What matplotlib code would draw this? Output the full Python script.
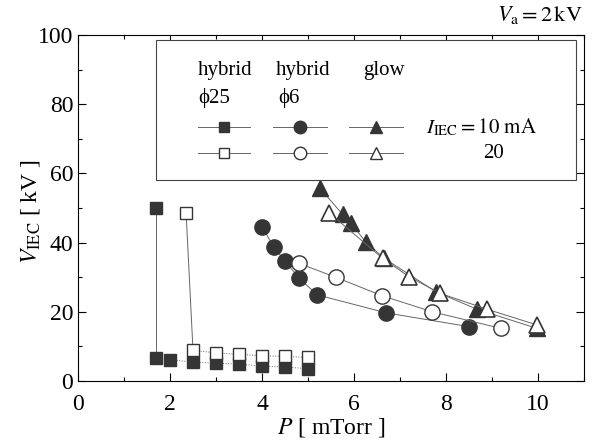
import matplotlib
matplotlib.use("Agg")
import matplotlib.pyplot as plt
from matplotlib.ticker import MultipleLocator

plt.rcParams['font.family'] = ['Liberation Serif', 'DejaVu Serif']
plt.rcParams['mathtext.fontset'] = 'stix'

# hybrid phi25
sq10_x = [1.7, 1.7, 2.0, 2.5, 3.0, 3.5, 4.0, 4.5, 5.0]
sq10_y = [50, 6.6, 6.1, 5.5, 5.1, 4.9, 4.3, 4.0, 3.6]
sq20_x = [2.35, 2.5, 3.0, 3.5, 4.0, 4.5, 5.0]
sq20_y = [48.5, 8.9, 8.1, 7.7, 7.3, 7.1, 6.8]

# hybrid phi6
ci10_x = [4.0, 4.25, 4.5, 4.8, 5.2, 6.7, 8.5]
ci10_y = [44.6, 38.8, 34.7, 29.8, 24.9, 19.7, 15.7]
ci20_x = [4.8, 5.6, 6.6, 7.7, 9.2]
ci20_y = [34.0, 30.0, 24.7, 20.0, 15.2]

# glow
tr10_x = [5.26, 5.75, 5.93, 6.25, 6.65, 7.78, 8.68, 9.98]
tr10_y = [55.7, 48.2, 45.6, 40.3, 35.5, 25.8, 20.7, 15.2]
tr20_x = [5.46, 6.62, 7.2, 7.88, 8.9, 9.98]
tr20_y = [48.6, 35.5, 30.1, 25.3, 20.7, 16.2]

dark = '#353535'
lc = '#666666'
lw = 0.7

fig = plt.figure(figsize=(5.93, 4.41), dpi=100)
ax = fig.add_axes([78/593, 1-381/441, (584-78)/593, (381-35)/441])

# squares: solid drop, dotted tail
ax.plot(sq10_x[:2], sq10_y[:2], '-', color=lc, lw=lw)
ax.plot(sq10_x[1:], sq10_y[1:], ':', color=lc, lw=lw)
ax.plot(sq10_x, sq10_y, 's', color=dark, ms=9, mec=dark, ls='none')
ax.plot(sq20_x[:2], sq20_y[:2], '-', color=lc, lw=lw)
ax.plot(sq20_x[1:], sq20_y[1:], ':', color=lc, lw=lw)
ax.plot(sq20_x, sq20_y, 's', mfc='white', mec=dark, ms=9, mew=1.0, ls='none')

ax.plot(ci10_x, ci10_y, '-', color=lc, lw=lw)
ax.plot(ci10_x, ci10_y, 'o', color=dark, ms=11, ls='none')
ax.plot(ci20_x, ci20_y, '-', color=lc, lw=lw)
ax.plot(ci20_x, ci20_y, 'o', mfc='white', mec=dark, ms=11, mew=1.0, ls='none')

ax.plot(tr10_x, tr10_y, '-', color=lc, lw=lw)
ax.plot(tr10_x, tr10_y, '^', color=dark, ms=12, ls='none')
ax.plot(tr20_x, tr20_y, '-', color=lc, lw=lw)
ax.plot(tr20_x, tr20_y, '^', mfc='white', mec=dark, ms=12, mew=1.2, ls='none')

ax.set_xlim(0, 11)
ax.set_ylim(0, 100)
ax.xaxis.set_major_locator(MultipleLocator(2))
ax.xaxis.set_minor_locator(MultipleLocator(1))
ax.yaxis.set_major_locator(MultipleLocator(20))
ax.yaxis.set_minor_locator(MultipleLocator(10))
ax.tick_params(which='both', direction='in', top=True, right=True, labelsize=17, width=0.8)
ax.tick_params(which='major', length=6)
ax.tick_params(which='minor', length=3)
ax.tick_params(axis='x', which='major', pad=9)
for s in ax.spines.values():
    s.set_linewidth(0.8)

ax.set_xlabel(r'$P$ [ mTorr ]', fontsize=17, labelpad=1)
ax.set_ylabel(r'$V_{\mathrm{IEC}}$ [ kV ]', fontsize=17)
ax.yaxis.set_label_coords(-0.072, 0.49)
fig.text(583/593, 1-15/441, r'$V_{\mathrm{a}} = 2\,\mathrm{kV}$', fontsize=16,
         ha='right', va='center')

# legend box drawn by hand (figure pixel coords)
def fx(px):
    return px / 593
def fy(py):
    return 1 - py / 441

box = plt.Rectangle((fx(156), fy(180)), fx(576) - fx(156), fy(40) - fy(180),
                    transform=fig.transFigure, fill=True, fc='white', ec='#444444', lw=0.8, zorder=5)
fig.add_artist(box)
fs = 15
fig.text(fx(198), fy(71), 'hybrid', fontsize=fs, va='center', zorder=6)
fig.text(fx(198), fy(98), 'ϕ25', fontsize=fs, va='center', zorder=6)
fig.text(fx(276), fy(71), 'hybrid', fontsize=fs, va='center', zorder=6)
fig.text(fx(278), fy(98), 'ϕ6', fontsize=fs, va='center', zorder=6)
fig.text(fx(363), fy(71), 'glow', fontsize=fs, va='center', zorder=6)
fig.text(fx(426), fy(127), r'$I_{\mathrm{IEC}} = 10\ \mathrm{mA}$', fontsize=fs, va='center', zorder=6)
fig.text(fx(493), fy(153), '20', fontsize=fs, va='center', ha='center', zorder=6)

rows = [(127, True), (153, False)]
cols = [(198, 250, 's', 7), (273, 327, 'o', 9), (349, 403, '^', 9)]
for py, filled in rows:
    for x0, x1, m, ms in cols:
        l = plt.Line2D([fx(x0), fx(x1)], [fy(py), fy(py)], transform=fig.transFigure,
                       color=lc, lw=lw, zorder=6)
        fig.add_artist(l)
        mk = plt.Line2D([fx((x0 + x1) / 2)], [fy(py)], transform=fig.transFigure,
                        marker=m, ms=ms, mfc=dark if filled else 'white', mec=dark,
                        mew=1.0, ls='none', zorder=7)
        fig.add_artist(mk)

fig.savefig('out.png', dpi=100)
